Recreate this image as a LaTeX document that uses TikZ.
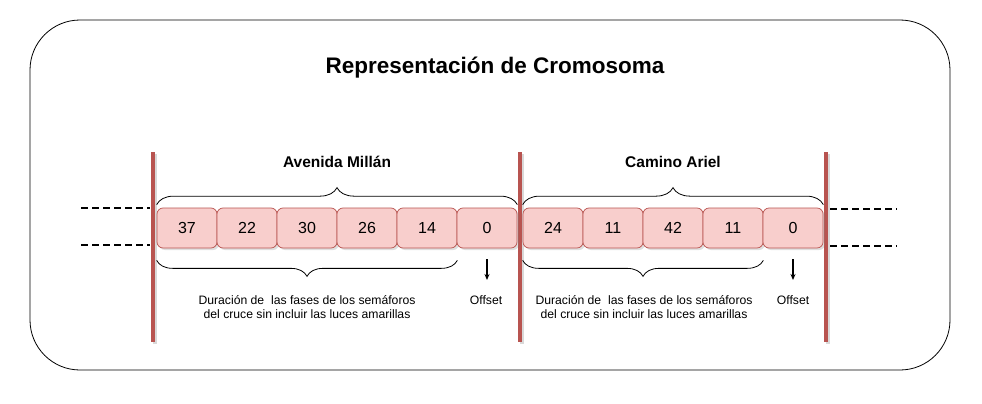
\documentclass[tikz,border=0pt]{standalone}
\usepackage{fontspec}
\setmainfont{Liberation Sans}
\usetikzlibrary{decorations.pathreplacing,shadows,arrows.meta}
\definecolor{redline}{HTML}{B85450}
\definecolor{cellfill}{HTML}{F8CECC}
\begin{document}
\begin{tikzpicture}[x=1pt,y=-1pt,
  cell/.style={draw=redline, fill=cellfill, line width=0.7pt, rounded corners=6pt,
    minimum width=60pt, minimum height=40pt, inner sep=0pt,
    font=\fontsize{16}{19}\selectfont,
    drop shadow={shadow xshift=2pt, shadow yshift=-2pt, opacity=0.25, fill=gray}},
  redbar/.style={draw=redline, line width=4pt},
  barshadow/.style={draw=gray, opacity=0.3, line width=4pt},
  dashline/.style={draw=black, line width=1.4pt, dash pattern=on 7pt off 4pt},
  bracedeco/.style={decorate, decoration={brace, amplitude=#1}, line width=0.8pt},
  heading/.style={font=\bfseries\fontsize{15.5}{18}\selectfont, anchor=base, inner sep=0pt},
  note/.style={font=\fontsize{12.2}{14}\selectfont, anchor=base, inner sep=0pt, align=center},
  arr/.style={-{Stealth[length=6pt,width=5pt]}, line width=1.2pt}
]
\useasboundingbox (0,0) rectangle (982,404);
\draw[rounded corners=50pt, line width=0.8pt] (30,20) rectangle (950,370);

\node[font=\bfseries\fontsize{22.5}{26}\selectfont, anchor=base, inner sep=0pt] (title) at (495,74) {Representación de Cromosoma};

% dashed guide lines
\draw[dashline] (81,208) -- (150,208);
\draw[dashline] (81,245) -- (150,245);
\draw[dashline] (830,209) -- (897,209);
\draw[dashline] (830,246) -- (897,246);

% red bars
\foreach \x in {153,520,826} {
  \draw[barshadow] (\x+2,154) -- (\x+2,344);
  \draw[redbar] (\x,152) -- (\x,342);
}

% cells
\node[cell] (a1) at (187,228) {37};
\node[cell] (a2) at (247,228) {22};
\node[cell] (a3) at (307,228) {30};
\node[cell] (a4) at (367,228) {26};
\node[cell] (a5) at (427,228) {14};
\node[cell] (a6) at (487,228) {0};
\node[cell] (b1) at (553,228) {24};
\node[cell] (b2) at (613,228) {11};
\node[cell] (b3) at (673,228) {42};
\node[cell] (b4) at (733,228) {11};
\node[cell] (b5) at (793,228) {0};

% headings
\node[heading] (hA) at (337,167) {Avenida Millán};
\node[heading] (hB) at (673,167) {Camino Ariel};

% braces
\draw[bracedeco=17pt] ([yshift=3pt]a1.north west) -- ([yshift=3pt]a6.north east);
\draw[bracedeco=17pt] ([yshift=3pt]b1.north west) -- ([yshift=3pt]b5.north east);
\draw[bracedeco=16pt] ([yshift=-12pt]a5.south east) -- ([yshift=-12pt]a1.south west);
\draw[bracedeco=16pt] ([yshift=-12pt]b4.south east) -- ([yshift=-12pt]b1.south west);

% notes
\node[note] (nA) at (307,318) {Duración de\ \ las fases de los semáforos\\del cruce sin incluir las luces amarillas};
\node[note] (nB) at (644,318) {Duración de\ \ las fases de los semáforos\\del cruce sin incluir las luces amarillas};
\node[note] (oA) at (486,304) {Offset};
\node[note] (oB) at (793,304) {Offset};

% offset arrows
\coordinate (tA) at (487,280);
\coordinate (tB) at (793,280);
\draw[arr] ([yshift=-11pt]a6.south) -- (tA);
\draw[arr] ([yshift=-11pt]b5.south) -- (tB);
\end{tikzpicture}
\end{document}
